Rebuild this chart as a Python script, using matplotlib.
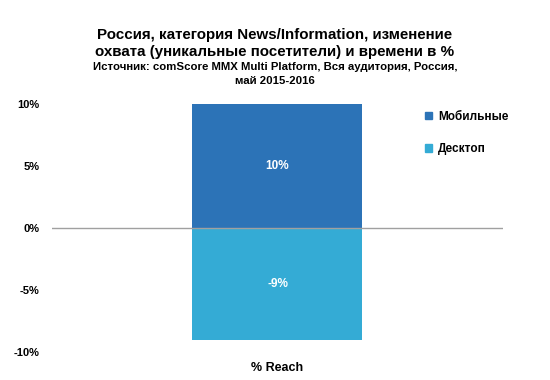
import matplotlib.pyplot as plt
from matplotlib.patches import Patch
from matplotlib.ticker import FuncFormatter

categories = ['% Reach']
mobile = [10]
desktop = [-9]
series_names = ['Мобильные', 'Десктоп']
colors = ['#2C73B7', '#34ABD5']

plt.rcParams['font.family'] = ['Liberation Sans', 'DejaVu Sans']

fig = plt.figure(figsize=(5.5, 3.8), dpi=100)
ax = fig.add_axes([0.0945, 0.0737, 0.82, 0.6526])

x = range(len(categories))
ax.bar(x, mobile, width=0.377, color=colors[0], zorder=2)
ax.bar(x, desktop, width=0.377, color=colors[1], zorder=2)
ax.axhline(0, color='#a0a0a0', linewidth=1, zorder=3)

for i in x:
    ax.text(i, mobile[i] / 2, f'{mobile[i]}%', ha='center', va='center',
            color='white', fontsize=8.5, fontweight='bold', zorder=4)
    ax.text(i, desktop[i] / 2, f'{desktop[i]}%', ha='center', va='center',
            color='white', fontsize=8.5, fontweight='bold', zorder=4)

ax.set_xlim(-0.5, 0.5)
ax.set_ylim(-10, 10)
ax.set_yticks([-10, -5, 0, 5, 10])
ax.yaxis.set_major_formatter(FuncFormatter(lambda v, p: f'{v:.0f}%'))
ax.set_xticks(list(x))
ax.set_xticklabels(categories)
ax.tick_params(length=0)
ax.tick_params(axis='y', pad=9, labelsize=8)
ax.tick_params(axis='x', pad=7, labelsize=9)
for lab in ax.get_yticklabels() + ax.get_xticklabels():
    lab.set_fontweight('bold')
for s in ax.spines.values():
    s.set_visible(False)

handles = [Patch(color=c) for c in colors]
fig.legend(handles, series_names, loc='upper left', bbox_to_anchor=(0.754, 0.737),
           frameon=False, handlelength=0.6, handleheight=0.6, handletextpad=0.5,
           labelspacing=1.75, prop={'weight': 'bold', 'size': 8.5})

fig.text(0.5, 0.886, 'Россия, категория News/Information, изменение\nохвата (уникальные посетители) и времени в %',
         ha='center', va='center', fontsize=10.9, fontweight='bold', linespacing=1.3)
fig.text(0.5, 0.805, 'Источник: comScore MMX Multi Platform, Вся аудитория, Россия,\nмай 2015-2016',
         ha='center', va='center', fontsize=8.2, fontweight='bold', linespacing=1.4)

fig.savefig('out.png', dpi=100)
